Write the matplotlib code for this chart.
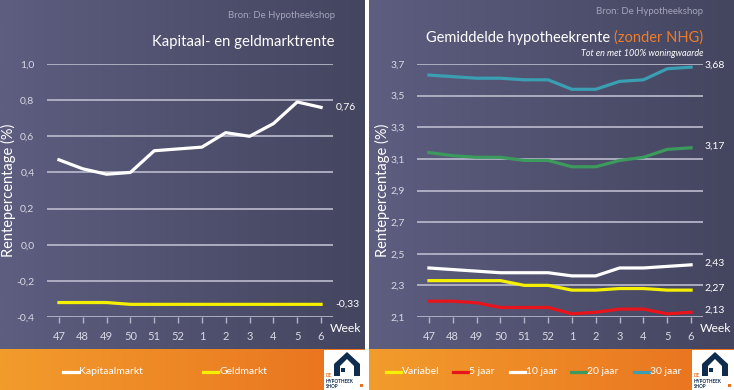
import matplotlib.pyplot as plt
import matplotlib.colors as mcolors
from matplotlib.patches import Rectangle, Polygon
import numpy as np

plt.rcParams['font.family'] = ['Lato', 'DejaVu Sans']

# --- data ---
weeks = ['47', '48', '49', '50', '51', '52', '1', '2', '3', '4', '5', '6']

kapitaalmarkt = [0.47, 0.42, 0.39, 0.40, 0.52, 0.53, 0.54, 0.62, 0.60, 0.67, 0.79, 0.76]
geldmarkt = [-0.32, -0.32, -0.32, -0.33, -0.33, -0.33, -0.33, -0.33, -0.33, -0.33, -0.33, -0.33]

variabel = [2.33, 2.33, 2.33, 2.33, 2.30, 2.30, 2.27, 2.27, 2.28, 2.28, 2.27, 2.27]
jaar5 = [2.20, 2.20, 2.19, 2.16, 2.16, 2.16, 2.12, 2.13, 2.15, 2.15, 2.12, 2.13]
jaar10 = [2.41, 2.40, 2.39, 2.38, 2.38, 2.38, 2.36, 2.36, 2.41, 2.41, 2.42, 2.43]
jaar20 = [3.14, 3.12, 3.11, 3.11, 3.09, 3.09, 3.05, 3.05, 3.09, 3.11, 3.16, 3.17]
jaar30 = [3.63, 3.62, 3.61, 3.61, 3.60, 3.60, 3.54, 3.54, 3.59, 3.60, 3.67, 3.68]

left_ticks = [-0.4, -0.2, 0.0, 0.2, 0.4, 0.6, 0.8, 1.0]
right_ticks = [2.1, 2.3, 2.5, 2.7, 2.9, 3.1, 3.3, 3.5, 3.7]

W, H = 734, 390
fig = plt.figure(figsize=(W / 100, H / 100), dpi=100)
fig.patch.set_facecolor('white')

# background: gradients for both panels
bg = fig.add_axes([0, 0, 1, 1])
bg.axis('off')

def gradient(x0, x1, y0, y1, c_left, c_right):
    cl = np.array(mcolors.to_rgb(c_left))
    cr = np.array(mcolors.to_rgb(c_right))
    t = np.linspace(0, 1, 200)[None, :, None]
    img = cl * (1 - t) + cr * t
    bg.imshow(img, extent=[x0, x1, y1, y0], aspect='auto', zorder=0)

for x0, x1 in [(0, 365), (369, 734)]:
    gradient(x0, x1, 0, 349, '#5d5e80', '#44455f')
    gradient(x0, x1, 349, 390, '#f29c2c', '#e9711f')
bg.set_xlim(0, W)
bg.set_ylim(H, 0)

# logos
def logo(x0):
    bg.add_patch(Rectangle((x0, 350), 42, 40, facecolor='white', zorder=2))
    house = [(x0 + 10, 376), (x0 + 10, 364), (x0 + 23, 352), (x0 + 36, 364),
             (x0 + 36, 376), (x0 + 30, 376), (x0 + 30, 366), (x0 + 23, 359),
             (x0 + 16, 366), (x0 + 16, 376)]
    bg.add_patch(Polygon(house, closed=True, facecolor='#0f2b4e', zorder=3))
    bg.add_patch(Rectangle((x0 + 17, 368), 4, 4, facecolor='#0f2b4e', zorder=3))
    bg.text(x0 + 2, 377, 'DE', color='#e8731f', fontsize=3.3, fontweight='bold', zorder=4)
    bg.text(x0 + 2, 383, 'HYPOTHEEK', color='#0f2b4e', fontsize=3.3, fontweight='bold', zorder=4)
    bg.text(x0 + 2, 388.5, 'SHOP', color='#0f2b4e', fontsize=3.3, fontweight='bold', zorder=4)
    bg.add_patch(Rectangle((x0 + 36, 384), 3, 3, facecolor='#e8731f', zorder=3))

logo(324)
logo(692)

grid_color = '#b4b4c8'
label_color = '#d8d8e4'


def setup_axes(rect, ticks, fmt):
    ax = fig.add_axes(rect)
    ax.patch.set_alpha(0)
    for s in ax.spines.values():
        s.set_visible(False)
    ax.set_xlim(-0.5, 11.5)
    ax.set_ylim(ticks[0], ticks[-1])
    for t in ticks:
        ax.axhline(t, color=grid_color, lw=1.3, zorder=1)
    ax.set_yticks(ticks)
    ax.set_yticklabels([fmt(t) for t in ticks])
    ax.tick_params(axis='y', length=0, pad=9, labelsize=7.5, labelcolor=label_color)
    ax.set_xticks(range(len(weeks)))
    ax.set_xticklabels(weeks)
    ax.tick_params(axis='x', length=4, width=1, color=grid_color, pad=6,
                   labelsize=8, labelcolor=label_color)
    ax.set_ylabel('Rentepercentage (%)', color='white', fontsize=10.5, labelpad=0)
    ax.text(0.99, -0.047, 'Week', transform=ax.transAxes, color='white', fontsize=8.7,
            ha='left', va='center')
    return ax


def fmt1(v):
    return f'{v:.1f}'.replace('.', ',')


def fmt2(v):
    return f'{v:.2f}'.replace('.', ',')


# --- left panel ---
ax1 = setup_axes([47 / W, 1 - 317 / H, 286 / W, 253 / H], left_ticks, fmt1)
x = np.arange(len(weeks))
ax1.plot(x, kapitaalmarkt, color='white', lw=2.3, zorder=3, clip_on=False)
ax1.plot(x, geldmarkt, color='#f5f000', lw=2.3, zorder=3, clip_on=False)
ax1.text(11.6, kapitaalmarkt[-1], fmt2(kapitaalmarkt[-1]),
         color='white', fontsize=7.5, va='center')
ax1.text(11.6, geldmarkt[-1], fmt2(geldmarkt[-1]),
         color='white', fontsize=7.5, va='center')

fig.text(335 / W, 1 - 15 / H, 'Bron: De Hypotheekshop', color='#a4a4bc',
         fontsize=6.9, ha='right', va='center')
fig.text(334 / W, 1 - 42 / H, 'Kapitaal- en geldmarktrente', color='white',
         fontsize=10.7, ha='right', va='center')

# --- right panel ---
ax2 = setup_axes([417 / W, 1 - 317 / H, 286 / W, 253 / H], right_ticks, fmt1)
series = [
    ('Variabel', variabel, '#f5f000'),
    ('5 jaar', jaar5, '#e8141c'),
    ('10 jaar', jaar10, 'white'),
    ('20 jaar', jaar20, '#3b9a5c'),
    ('30 jaar', jaar30, '#3a9fb2'),
]
for name, vals, col in series:
    ax2.plot(x, vals, color=col, lw=2.3, zorder=3, clip_on=False)
for vals in [jaar30, jaar20, jaar10, variabel, jaar5]:
    ax2.text(11.55, vals[-1] + 0.01, fmt2(vals[-1]),
             color='white', fontsize=7.5, va='center')

fig.text(703 / W, 1 - 12 / H, 'Bron: De Hypotheekshop', color='#a4a4bc',
         fontsize=6.9, ha='right', va='center')
t2 = fig.text(703 / W, 1 - 38 / H, '(zonder NHG)', color='#ee7d2a',
              fontsize=10.5, ha='right', va='center')
fig.canvas.draw()
bb = t2.get_window_extent()
fig.text(bb.x0 / W, 1 - 38 / H, 'Gemiddelde hypotheekrente ', color='white',
         fontsize=10.5, ha='right', va='center')
fig.text(703 / W, 1 - 53 / H, 'Tot en met 100% woningwaarde', color='white',
         fontsize=6.5, style='italic', ha='right', va='center')

# --- legends in the orange band ---
def legend_item(xpix, label, col):
    bg.plot([xpix, xpix + 15], [372, 372], color=col, lw=2.3, zorder=3)
    bg.text(xpix + 16, 372, label, color='white', fontsize=7.5, va='center', zorder=3)

legend_item(63, 'Kapitaalmarkt', 'white')
legend_item(203, 'Geldmarkt', '#f5f000')
legend_pos = [386, 453, 510, 571, 634]
for xp, (name, vals, col) in zip(legend_pos, series):
    legend_item(xp, name, col)

fig.savefig('out.png', dpi=100, facecolor=fig.get_facecolor())
